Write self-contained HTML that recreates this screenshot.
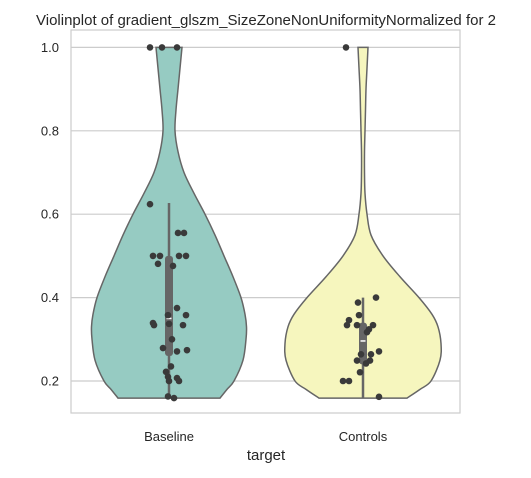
<!DOCTYPE html>
<html><head><meta charset="utf-8"><style>
body{margin:0;background:#fff;font-family:"Liberation Sans",Arial,sans-serif}
svg text{font-family:"Liberation Sans",Arial,sans-serif;fill:#262626}
</style></head><body>
<svg id="chart" width="531" height="473" viewBox="0 0 531 473" xmlns="http://www.w3.org/2000/svg">
<text x="266" y="25" text-anchor="middle" font-size="15">Violinplot of gradient_glszm_SizeZoneNonUniformityNormalized for 2</text>
<g id="grid"></g>
<g id="violins"></g>
<g id="points"></g>
<rect x="71" y="30" width="389" height="383" fill="none" stroke="#cccccc" stroke-width="1.2"/>
<g id="yticks"></g>
<g id="xticks"></g>
<text x="266" y="460" text-anchor="middle" font-size="15">target</text>
</svg>
<script>
const categories=["Baseline","Controls"];
const colors=["#96cbc2","#f6f6be"];
const yTicks=[0.2,0.4,0.6,0.8,1.0];
const yTickLabels=["0.2","0.4","0.6","0.8","1.0"];
// violin profile: values along y and density-like half widths
const baselineProfileV=[0.159,0.18,0.2,0.25,0.30,0.33,0.36,0.40,0.45,0.50,0.55,0.60,0.65,0.70,0.75,0.80,0.85,0.90,0.95,1.0];
const baselineProfileW=[51,58,65,74,77,77.5,76,72,64,55,46,36,25,15,9,6,7,9,11,13];
const controlsProfileV=[0.159,0.18,0.2,0.25,0.29,0.33,0.36,0.40,0.45,0.50,0.55,0.60,0.65,0.70,0.75,0.80,0.85,0.90,0.95,1.0];
const controlsProfileW=[44,57,68,77,78,75,69,56,37,20,8,4,2,1.5,1.5,2,2.5,3,4,5];
const baselineBox=[0.159,0.26,0.35,0.50,0.627];
const controlsBox=[0.159,0.24,0.296,0.34,0.40];
const baselineVals=[1.0,1.0,1.0,0.624,0.555,0.555,0.500,0.500,0.500,0.500,0.481,0.476,0.375,0.358,0.358,0.339,0.334,0.337,0.334,0.300,0.279,0.271,0.274,0.235,0.222,0.210,0.200,0.207,0.200,0.163,0.159];
const baselineJit=[-19,-7,8,-19,9,15,-16,-9,10,17,-11,4,8,17,-1,-16,-15,0,14,3,-6,8,18,2,-3,-1,0,8,10,-1,5];
const controlsVals=[1.0,0.400,0.388,0.358,0.346,0.334,0.334,0.334,0.324,0.317,0.271,0.264,0.264,0.249,0.249,0.242,0.221,0.200,0.200,0.162];
const controlsJit=[-17,13,-5,-4,-14,-16,-6,10,6,4,16,-2,8,-6,7,3,-3,-20,-14,16];
const profV=[baselineProfileV,controlsProfileV],profW=[baselineProfileW,controlsProfileW];
const boxes=[baselineBox,controlsBox],vals=[baselineVals,controlsVals],jits=[baselineJit,controlsJit];
const NS="http://www.w3.org/2000/svg";
function y(v){return 381-(v-0.2)*417;}
function x(i){return 169+i*194;}
function mk(tag,attrs,parent){const e=document.createElementNS(NS,tag);for(const k in attrs)e.setAttribute(k,attrs[k]);document.getElementById(parent).appendChild(e);return e;}
yTicks.forEach((t,i)=>{
 const l=mk("line",{x1:71,x2:460,y1:y(t),y2:y(t),stroke:"#cccccc","stroke-width":1.2},"grid");
 
 
 const tx=mk("text",{x:59,y:y(t)+4.5,"text-anchor":"end","font-size":13},"yticks");
 tx.textContent=yTickLabels[i];
 
 
});
categories.forEach((c,i)=>{
 const cx=x(i),V=profV[i],W=profW[i];
 let d="M"+(cx-W[0])+","+y(V[0]);
 // smooth right/left sides with points
 let left=[],right=[];
 for(let k=0;k<V.length;k++){left.push([cx-W[k],y(V[k])]);right.push([cx+W[k],y(V[k])]);}
 function smooth(pts){let s="";for(let k=1;k<pts.length;k++){const p0=pts[k-2]||pts[k-1],p1=pts[k-1],p2=pts[k],p3=pts[k+1]||p2;
  const c1=[p1[0]+(p2[0]-p0[0])/6,p1[1]+(p2[1]-p0[1])/6],c2=[p2[0]-(p3[0]-p1[0])/6,p2[1]-(p3[1]-p1[1])/6];
  s+=" C"+c1+" "+c2+" "+p2;}return s;}
 d+=smooth(left);
 d+=" L"+right[right.length-1];
 d+=smooth(right.slice().reverse());
 d+=" Z";
 const p=mk("path",{d:d,fill:colors[i],stroke:"#666666","stroke-width":1.5},"violins");
 
 
 const b=boxes[i];
 const w=mk("line",{x1:cx,x2:cx,y1:y(b[0]),y2:y(b[4]),stroke:"#666666","stroke-width":2.5},"violins");
 
 
 const r=mk("rect",{x:cx-4,y:y(b[3]),width:8,height:y(b[1])-y(b[3]),rx:3,fill:"#666666"},"violins");
 
 
 const m=mk("line",{x1:cx-2.5,x2:cx+2.5,y1:y(b[2]),y2:y(b[2]),stroke:"#fff","stroke-width":1.5},"violins");
 
 
 vals[i].forEach((v,k)=>{
  const pt=mk("circle",{cx:cx+jits[i][k],cy:y(v),r:3.3,fill:"#3a3a3a"},"points");
  
  
 });
 const tl=mk("text",{x:cx,y:441,"text-anchor":"middle","font-size":13},"xticks");
 tl.textContent=c;
 
 
});
</script>
</body></html>
